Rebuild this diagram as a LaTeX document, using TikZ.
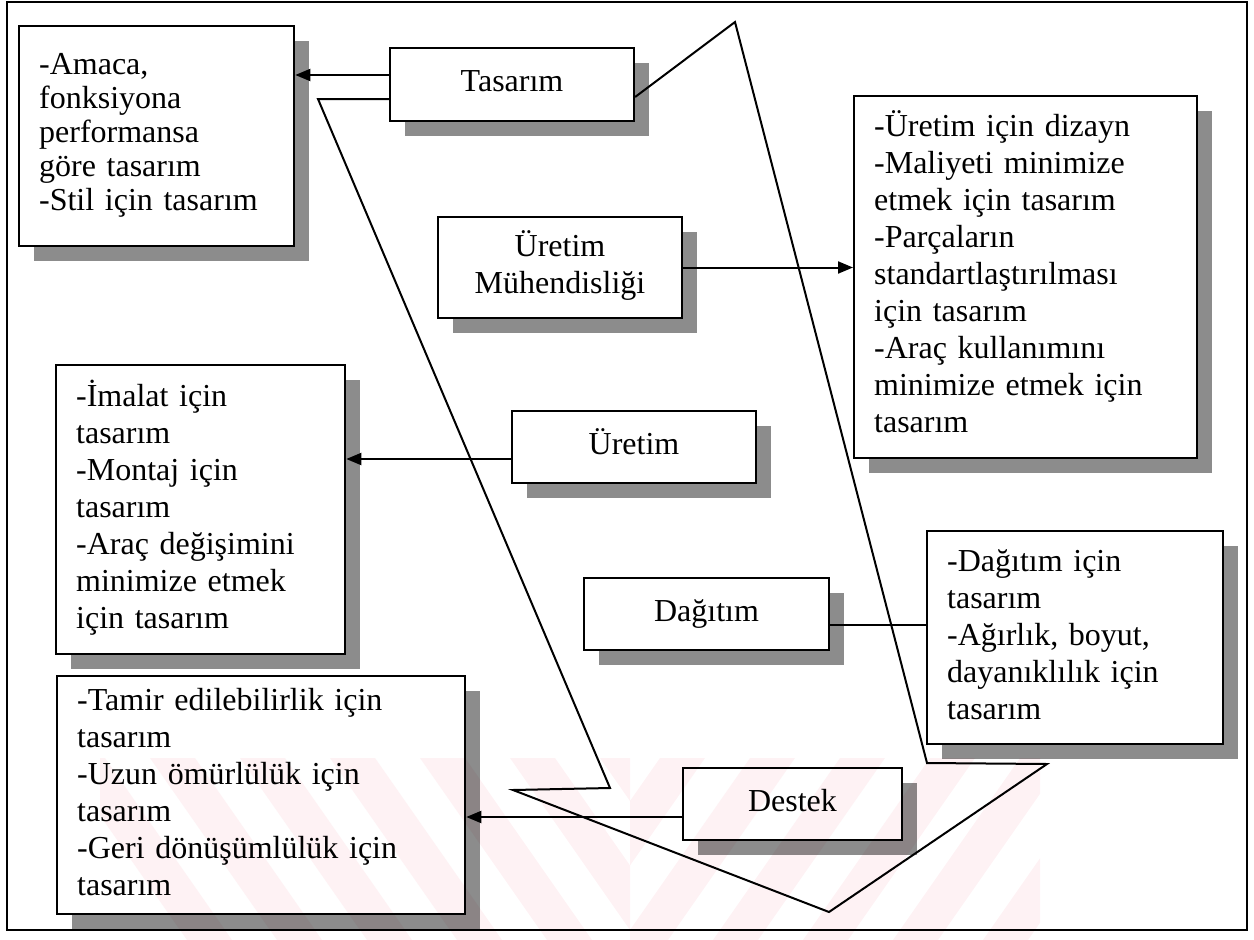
\documentclass[tikz,border=0pt]{standalone}
\usepackage{fontspec}
\setmainfont{Liberation Serif}
\usetikzlibrary{arrows.meta,shadows}
\definecolor{shade}{gray}{0.55}
\definecolor{wmark}{RGB}{254,242,244}

\begin{document}
\begin{tikzpicture}[x=1pt,y=-1pt,
  every node/.style={font=\fontsize{32}{37}\selectfont},
  boxshadow/.style={drop shadow={shadow xshift=15pt,shadow yshift=-15pt,fill=shade,opacity=1}},
  titlebox/.style={draw,line width=2.3pt,fill=white,boxshadow,align=center,inner sep=0pt,
    execute at begin node=\strut,execute at end node=\strut},
  listbox/.style={draw,line width=2.3pt,fill=white,boxshadow,align=left,
    inner xsep=20pt,inner ysep=0pt,anchor=north west,
    execute at begin node=\strut,execute at end node=\strut},
  link/.style={line width=2pt},
  arr/.style={link,-{Triangle[length=15pt,width=12pt]}},
  zig/.style={line width=2pt,line join=miter}
]
\useasboundingbox (0,0) rectangle (1254,940);

% outer frame
\draw[line width=1.8pt] (7,2) rectangle (1247,930);

% detail boxes
\node[listbox,text width=235pt,minimum height=220pt,font=\fontsize{32}{34}\selectfont]
  (amaca) at (18,25) {-Amaca,\\fonksiyona\\performansa\\göre tasarım\\-Stil için tasarım};
\node[listbox,text width=303pt,minimum height=362pt] (uretB) at (853,95)
  {-Üretim için dizayn\\-Maliyeti minimize\\etmek için tasarım\\-Parçaların\\standartlaştırılması\\için tasarım\\-Araç kullanımını\\minimize etmek için\\tasarım};
\node[listbox,text width=249pt,minimum height=289pt] (imalat) at (55,364)
  {-İmalat için\\tasarım\\-Montaj için\\tasarım\\-Araç değişimini\\minimize etmek\\için tasarım};
\node[listbox,text width=256pt,minimum height=213pt] (dagB) at (926,530)
  {-Dağıtım için\\tasarım\\-Ağırlık, boyut,\\dayanıklılık için\\tasarım};
\node[listbox,text width=368pt,minimum height=238pt] (tamir) at (56,675)
  {-Tamir edilebilirlik için\\tasarım\\-Uzun ömürlülük için\\tasarım\\-Geri dönüşümlülük için\\tasarım};

% stage boxes
\node[titlebox,minimum width=244pt,minimum height=73pt] (tas) at (512,84.5) {Tasarım};
\node[titlebox,minimum width=244pt,minimum height=101pt] (um) at (560,267.5) {Üretim\\Mühendisliği};
\node[titlebox,minimum width=244pt,minimum height=72pt] (ure) at (634,447) {Üretim};
\node[titlebox,minimum width=245pt,minimum height=72pt] (dag) at (706.5,614) {Dağıtım};
\node[titlebox,minimum width=219pt,minimum height=72pt] (des) at (792.5,804) {Destek};

% connectors
\draw[arr] ([yshift=9.5pt]tas.west) coordinate (t1) -- (t1 -| amaca.east);
\draw[arr] (um.east) -- (um.east -| uretB.west);
\draw[arr] ([yshift=-12pt]ure.west) coordinate (u1) -- (u1 -| imalat.east);
\draw[link] ([yshift=-11pt]dag.east) coordinate (d1) -- (d1 -| dagB.west);
\draw[arr] ([yshift=-13pt]des.west) coordinate (s1) -- (s1 -| tamir.east);

% zigzag outline through the stages
\coordinate (z1) at (318,99);
\coordinate (z2) at (610,788);
\coordinate (z3) at (513,790);
\coordinate (z4) at (829,912);
\coordinate (z5) at (1047,764);
\coordinate (z6) at (927,763);
\coordinate (z7) at (735,22);
\draw[zig] ([yshift=-14.5pt]tas.west) -- (z1) -- (z2) -- (z3) -- (z4) -- (z5) -- (z6) -- (z7)
  -- ([yshift=-12.5pt]tas.east);

% faint striped stamp laid over the bottom part
\begin{scope}[blend mode=multiply]
  \begin{scope}
    \clip (100,758) rectangle (630,940);
    \foreach \s in {60,150,...,600}
      \fill[wmark] (\s,758) -- ++(45,0) -- ++(127,182) -- ++(-45,0) -- cycle;
  \end{scope}
  \begin{scope}
    \clip (630,758) rectangle (1040,940);
    \foreach \s in {660,750,...,1200}
      \fill[wmark] (\s,758) -- ++(45,0) -- ++(-127,182) -- ++(-45,0) -- cycle;
  \end{scope}
\end{scope}
\end{tikzpicture}
\end{document}
